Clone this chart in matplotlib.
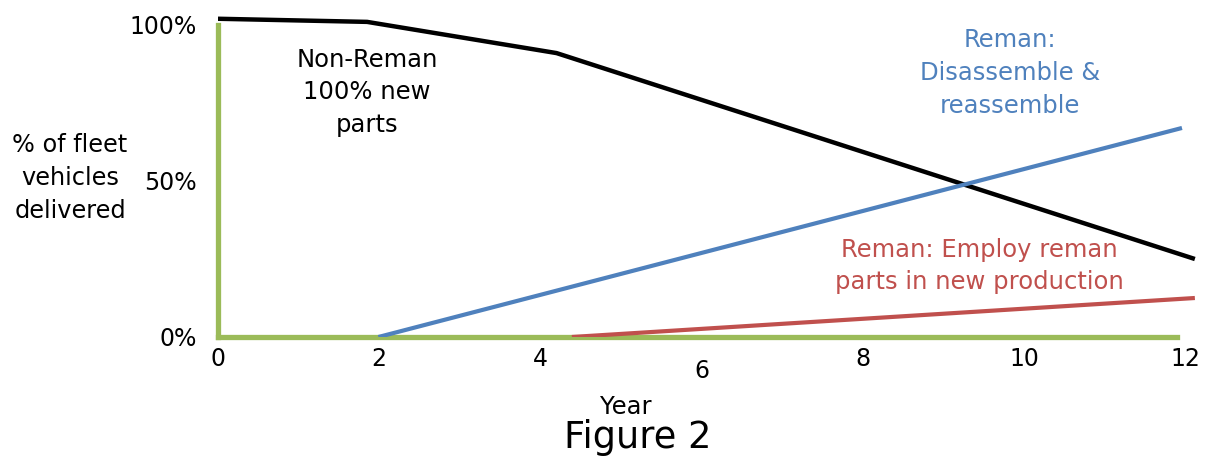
import numpy as np
import matplotlib
matplotlib.use("Agg")
import matplotlib.pyplot as plt
from matplotlib.transforms import ScaledTranslation

plt.rcParams['font.family'] = ['DejaVu Sans']

# values (year, % of fleet)
nonreman_year = [0, 1.85, 4.2, 12.12]
nonreman_pct = [102, 101, 91, 25]
disassemble_year = [1.99, 11.96]
disassemble_pct = [0, 67]
employ_year = [4.39, 12.12]
employ_pct = [0, 12.5]

xticks = [0, 2, 4, 6, 8, 10, 12]
yticks = [0, 50, 100]
ytick_labels = ['0%', '50%', '100%']

green = '#9BBB59'
blue = '#4F81BD'
red = '#C0504D'

W, H = 1212, 457
fig = plt.figure(figsize=(W / 100, H / 100), dpi=100)
# axes placed so that x=0 sits at px 218 and 0% at px 337
xmin, xmax = 0, 12.3
ymin, ymax = 0, 105
pxx = 80.6
pxy = 3.12
ax = fig.add_axes([218 / W, (H - 337) / H, (xmax - xmin) * pxx / W, (ymax - ymin) * pxy / H])
ax.set_xlim(xmin, xmax)
ax.set_ylim(ymin, ymax)

ax.plot(nonreman_year, nonreman_pct, color='black', lw=3.2, solid_capstyle='butt', zorder=3)
ax.plot(disassemble_year, disassemble_pct, color=blue, lw=3.0, solid_capstyle='butt', zorder=3)
ax.plot(employ_year, employ_pct, color=red, lw=3.0, solid_capstyle='butt', zorder=3)

for s in ['top', 'right']:
    ax.spines[s].set_visible(False)
for s in ['left', 'bottom']:
    ax.spines[s].set_color(green)
    ax.spines[s].set_linewidth(3.8)
    ax.spines[s].set_zorder(2)
ax.spines['left'].set_bounds(0, 100)
ax.spines['bottom'].set_bounds(0, 11.9)

ax.set_xticks(xticks)
ax.set_xticklabels([str(t) for t in xticks])
ax.set_yticks(yticks)
ax.set_yticklabels(ytick_labels)
ax.tick_params(axis='both', length=0, labelsize=17)
ax.tick_params(axis='x', pad=7)
ax.tick_params(axis='y', pad=15)

# the "6" label sits a bit lower in the original
lbl6 = ax.get_xticklabels()[3]
lbl6.set_transform(lbl6.get_transform() + ScaledTranslation(0, -9 / 72, fig.dpi_scale_trans))

ax.text(1.85, 78.5, 'Non-Reman\n100% new\nparts', ha='center', va='center',
        fontsize=17.5, linespacing=1.45, color='black')
ax.text(9.83, 84.6, 'Reman:\nDisassemble &\nreassemble', ha='center', va='center',
        fontsize=17.5, linespacing=1.45, color=blue)
ax.text(9.45, 22.8, 'Reman: Employ reman\nparts in new production', ha='center', va='center',
        fontsize=17.5, linespacing=1.45, color=red)

fig.text(70 / W, 1 - 178 / H, '% of fleet\nvehicles\ndelivered', ha='center', va='center',
         fontsize=17.3, linespacing=1.45)
fig.text(626 / W, 1 - 407 / H, 'Year', ha='center', va='center', fontsize=17.5)
fig.text(638 / W, 1 - 437 / H, 'Figure 2', ha='center', va='center', fontsize=26.5)

fig.savefig('out.png', dpi=100, facecolor='white')
